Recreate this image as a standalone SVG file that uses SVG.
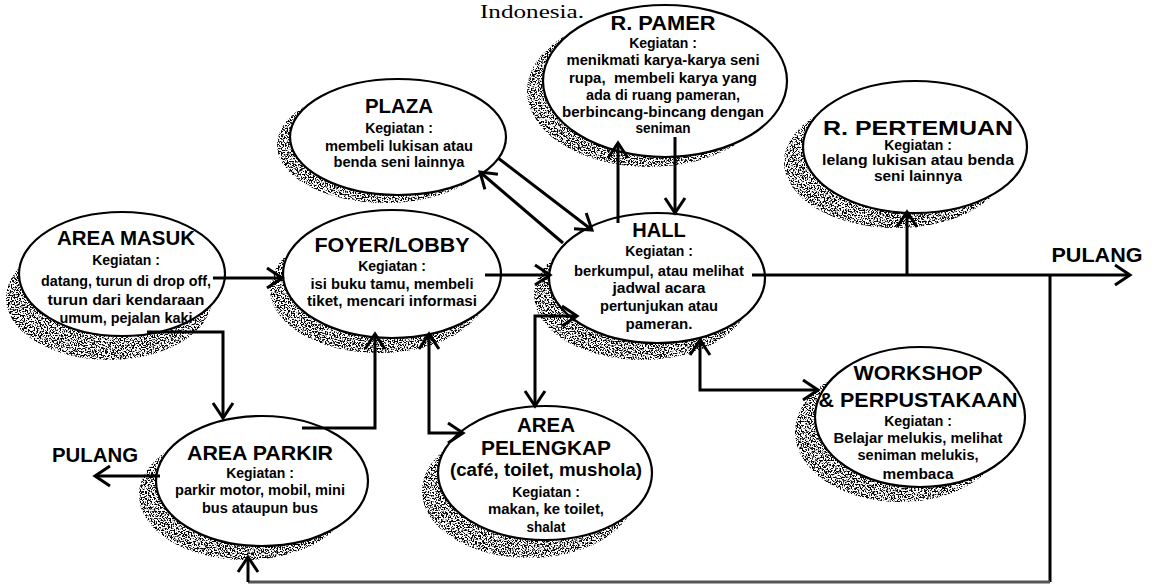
<svg xmlns="http://www.w3.org/2000/svg" width="1156" height="586" viewBox="0 0 1156 586">
  <style>
    .bg { fill: #fff; }
    .node { fill: #fff; stroke: #000; stroke-width: 2.2; }
    .shade { fill: #000; filter: url(#grain); }
    .ti { font-family: "Liberation Sans", Arial, sans-serif; font-weight: bold; font-size: 20px; text-anchor: middle; fill: #000; }
    .sub { font-family: "Liberation Sans", Arial, sans-serif; font-weight: bold; font-size: 18px; text-anchor: middle; fill: #000; }
    .bd { font-family: "Liberation Sans", Arial, sans-serif; font-weight: bold; font-size: 14px; text-anchor: middle; fill: #000; }
    .cap { font-family: "Liberation Serif", "Times New Roman", serif; font-size: 18px; fill: #000; }
    .c { fill: none; stroke: #000; stroke-width: 3; stroke-linejoin: miter; }
    .faint { stroke: #555; }
  </style>
  <defs>
    <!-- speckled texture used for the offset shadows -->
    <filter id="grain" x="-5%" y="-5%" width="110%" height="110%" color-interpolation-filters="sRGB">
      <feTurbulence type="fractalNoise" baseFrequency="0.7" numOctaves="2" seed="7" result="noise"/>
      <feColorMatrix in="noise" type="matrix" values="0 0 0 0 0  0 0 0 0 0  0 0 0 0 0  10 0 0 0 -4.8" result="speck"/>
      <feComposite in="speck" in2="SourceAlpha" operator="in"/>
    </filter>
    <!-- open chevron arrowhead -->
    <marker id="ah" viewBox="-18 -12 22 24" refX="0" refY="0" markerWidth="22" markerHeight="24" markerUnits="userSpaceOnUse" orient="auto-start-reverse">
      <path d="M-15,-10 L0,0 L-15,10" fill="none" stroke="#000" stroke-width="3"/>
    </marker>
  </defs>

  <rect class="bg" x="0" y="0" width="1156" height="586"/>

  <text class="cap" x="480" y="18" textLength="104" lengthAdjust="spacingAndGlyphs">Indonesia.</text>

  <g id="area-masuk">
    <ellipse class="shade" cx="109" cy="298" rx="103" ry="62"/>
    <ellipse class="node" cx="122" cy="274" rx="103" ry="62"/>
    <text class="ti" x="126" y="245" textLength="138" lengthAdjust="spacingAndGlyphs">AREA MASUK</text>
    <text class="bd" x="126" y="265">Kegiatan :</text>
    <text class="bd" x="126" y="286" textLength="170" lengthAdjust="spacingAndGlyphs">datang, turun di drop off,</text>
    <text class="bd" x="126" y="305" textLength="157" lengthAdjust="spacingAndGlyphs">turun dari kendaraan</text>
    <text class="bd" x="126" y="323" textLength="133" lengthAdjust="spacingAndGlyphs">umum, pejalan kaki</text>
  </g>

  <g id="foyer-lobby">
    <ellipse class="shade" cx="379" cy="289" rx="109" ry="64"/>
    <ellipse class="node" cx="392" cy="274" rx="109" ry="64"/>
    <text class="ti" x="392" y="252" textLength="155" lengthAdjust="spacingAndGlyphs">FOYER/LOBBY</text>
    <text class="bd" x="392" y="271">Kegiatan :</text>
    <text class="bd" x="392" y="289" textLength="163" lengthAdjust="spacingAndGlyphs">isi buku tamu, membeli</text>
    <text class="bd" x="392" y="306" textLength="170" lengthAdjust="spacingAndGlyphs">tiket, mencari informasi</text>
  </g>

  <g id="plaza">
    <ellipse class="shade" cx="385" cy="145" rx="108" ry="58"/>
    <ellipse class="node" cx="398" cy="137" rx="108" ry="58"/>
    <text class="ti" x="399" y="113" textLength="68" lengthAdjust="spacingAndGlyphs">PLAZA</text>
    <text class="bd" x="399" y="133">Kegiatan :</text>
    <text class="bd" x="399" y="151" textLength="148" lengthAdjust="spacingAndGlyphs">membeli lukisan atau</text>
    <text class="bd" x="399" y="167" textLength="131" lengthAdjust="spacingAndGlyphs">benda seni lainnya</text>
  </g>

  <g id="r-pamer">
    <ellipse class="shade" cx="649" cy="91" rx="122" ry="76"/>
    <ellipse class="node" cx="665" cy="81" rx="122" ry="76"/>
    <text class="ti" x="663" y="30" textLength="105" lengthAdjust="spacingAndGlyphs">R. PAMER</text>
    <text class="bd" x="663" y="48">Kegiatan :</text>
    <text class="bd" x="663" y="65" textLength="193" lengthAdjust="spacingAndGlyphs">menikmati karya-karya seni</text>
    <text class="bd" x="663" y="83" textLength="188" lengthAdjust="spacingAndGlyphs" xml:space="preserve">rupa,  membeli karya yang</text>
    <text class="bd" x="663" y="100" textLength="154" lengthAdjust="spacingAndGlyphs">ada di ruang pameran,</text>
    <text class="bd" x="663" y="117" textLength="202" lengthAdjust="spacingAndGlyphs">berbincang-bincang dengan</text>
    <text class="bd" x="663" y="133" textLength="55" lengthAdjust="spacingAndGlyphs">seniman</text>
  </g>

  <g id="hall">
    <ellipse class="shade" cx="642" cy="295" rx="108" ry="65"/>
    <ellipse class="node" cx="657" cy="278" rx="108" ry="65"/>
    <text class="ti" x="659" y="237">HALL</text>
    <text class="bd" x="659" y="256">Kegiatan :</text>
    <text class="bd" x="659" y="276" textLength="170" lengthAdjust="spacingAndGlyphs">berkumpul, atau melihat</text>
    <text class="bd" x="659" y="293" textLength="93" lengthAdjust="spacingAndGlyphs">jadwal acara</text>
    <text class="bd" x="659" y="311" textLength="118" lengthAdjust="spacingAndGlyphs">pertunjukan atau</text>
    <text class="bd" x="659" y="329" textLength="67" lengthAdjust="spacingAndGlyphs">pameran.</text>
  </g>

  <g id="r-pertemuan">
    <ellipse class="shade" cx="896" cy="162" rx="112" ry="66"/>
    <ellipse class="node" cx="915" cy="147" rx="112" ry="66"/>
    <text class="ti" x="918" y="135" textLength="190" lengthAdjust="spacingAndGlyphs">R. PERTEMUAN</text>
    <text class="bd" x="918" y="150">Kegiatan :</text>
    <text class="bd" x="918" y="165" textLength="192" lengthAdjust="spacingAndGlyphs">lelang lukisan atau benda</text>
    <text class="bd" x="918" y="181" textLength="88" lengthAdjust="spacingAndGlyphs">seni lainnya</text>
  </g>

  <g id="workshop-perpustakaan">
    <ellipse class="shade" cx="900" cy="432" rx="105" ry="70"/>
    <ellipse class="node" cx="920" cy="417" rx="105" ry="70"/>
    <text class="ti" x="918" y="380" textLength="129" lengthAdjust="spacingAndGlyphs">WORKSHOP</text>
    <text class="ti" x="918" y="407" textLength="199" lengthAdjust="spacingAndGlyphs">&amp; PERPUSTAKAAN</text>
    <text class="bd" x="918" y="426">Kegiatan :</text>
    <text class="bd" x="918" y="443" textLength="169" lengthAdjust="spacingAndGlyphs">Belajar melukis, melihat</text>
    <text class="bd" x="918" y="460" textLength="121" lengthAdjust="spacingAndGlyphs">seniman melukis,</text>
    <text class="bd" x="918" y="479" textLength="71" lengthAdjust="spacingAndGlyphs">membaca</text>
  </g>

  <g id="area-pelengkap">
    <ellipse class="shade" cx="529" cy="491" rx="107" ry="67"/>
    <ellipse class="node" cx="545" cy="473" rx="107" ry="67"/>
    <text class="ti" x="546" y="432" textLength="58" lengthAdjust="spacingAndGlyphs">AREA</text>
    <text class="ti" x="546" y="455" textLength="130" lengthAdjust="spacingAndGlyphs">PELENGKAP</text>
    <text class="sub" x="546" y="476" textLength="192" lengthAdjust="spacingAndGlyphs">(café, toilet, mushola)</text>
    <text class="bd" x="546" y="497">Kegiatan :</text>
    <text class="bd" x="546" y="514" textLength="116" lengthAdjust="spacingAndGlyphs">makan, ke toilet,</text>
    <text class="bd" x="546" y="532" textLength="39" lengthAdjust="spacingAndGlyphs">shalat</text>
  </g>

  <g id="area-parkir">
    <ellipse class="shade" cx="245" cy="495" rx="106" ry="65"/>
    <ellipse class="node" cx="262" cy="481" rx="106" ry="65"/>
    <text class="ti" x="260" y="460" textLength="146" lengthAdjust="spacingAndGlyphs">AREA PARKIR</text>
    <text class="bd" x="260" y="478">Kegiatan :</text>
    <text class="bd" x="260" y="495" textLength="170" lengthAdjust="spacingAndGlyphs">parkir motor, mobil, mini</text>
    <text class="bd" x="260" y="513" textLength="116" lengthAdjust="spacingAndGlyphs">bus ataupun bus</text>
  </g>

  <g id="pulang-kiri">
    <text class="ti" x="95" y="462" textLength="86" lengthAdjust="spacingAndGlyphs">PULANG</text>
  </g>
  <g id="pulang-kanan">
    <text class="ti" x="1097" y="262" textLength="91" lengthAdjust="spacingAndGlyphs">PULANG</text>
  </g>

  <g id="connectors">
    <!-- entrance to foyer and parking -->
    <path class="c" d="M213,278 H282" marker-end="url(#ah)"/>
    <path class="c" d="M147,332 H223 V418" marker-end="url(#ah)"/>
    <!-- parking back up to foyer, parking out -->
    <path class="c" d="M302,428 H375 V334" marker-end="url(#ah)"/>
    <path class="c" d="M160,476 H95" marker-end="url(#ah)"/>
    <!-- foyer and supporting area, both ways -->
    <path class="c" d="M429,334 V433 H463" marker-start="url(#ah)" marker-end="url(#ah)"/>
    <!-- foyer to hall -->
    <path class="c" d="M485,275 H550" marker-end="url(#ah)"/>
    <!-- plaza and hall -->
    <path class="c" d="M498,158 L592,230" marker-end="url(#ah)"/>
    <path class="c" d="M563,243 L480,172" marker-end="url(#ah)"/>
    <!-- hall and exhibition room -->
    <path class="c" d="M618,223 V143" marker-end="url(#ah)"/>
    <path class="c" d="M675,137 V213" marker-end="url(#ah)"/>
    <!-- hall and supporting area -->
    <path class="c" d="M577,316 H535 V406" marker-start="url(#ah)" marker-end="url(#ah)"/>
    <!-- hall and workshop -->
    <path class="c" d="M700,340 V390 H818" marker-start="url(#ah)" marker-end="url(#ah)"/>
    <!-- hall out, meeting room branch -->
    <path class="c" d="M752,275 H1130" marker-end="url(#ah)"/>
    <path class="c" d="M907,275 V212" marker-end="url(#ah)"/>
    <!-- return loop to parking -->
    <path class="c" d="M1050,275 V582"/>
    <path class="c faint" d="M1050,582 H248"/>
    <path class="c" d="M248,582 V557" marker-end="url(#ah)"/>
  </g>
</svg>
